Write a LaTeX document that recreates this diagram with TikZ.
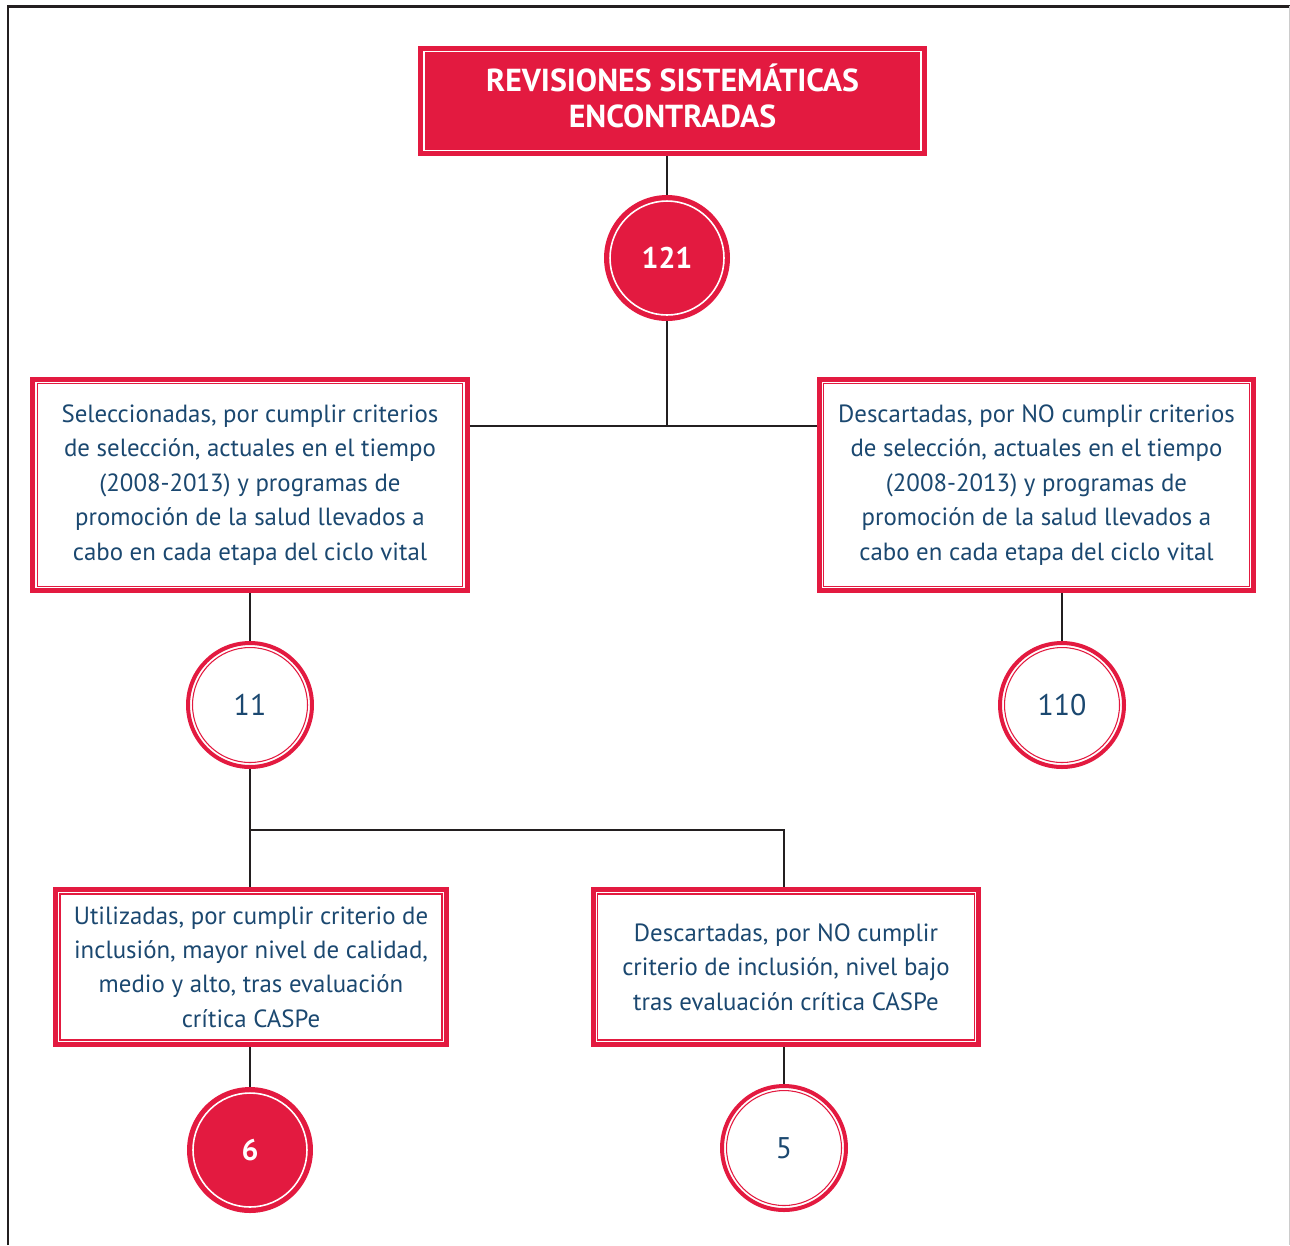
\documentclass[tikz,border=0pt]{standalone}
\usepackage{fontspec}
\setmainfont{PT Sans}
\usepackage{tikz}
\usetikzlibrary{calc,positioning}
\definecolor{crimson}{RGB}{227,26,64}
\definecolor{navy}{RGB}{27,72,112}
\definecolor{ink}{RGB}{35,31,32}

\begin{document}
\begin{tikzpicture}[x=0.02cm, y=-0.02cm,
  titlebox/.style={rectangle, fill=crimson, draw=crimson, line width=1pt, text=white,
    minimum width=10.14cm, minimum height=2.18cm, align=center, text depth=0.2cm,
    font=\bfseries\fontsize{18.1}{21.5}\selectfont,
    path picture={\draw[white, line width=0.9pt]
      ([shift={(0.1cm,-0.1cm)}]path picture bounding box.north west) rectangle
      ([shift={(-0.1cm,0.1cm)}]path picture bounding box.south east);}},
  infobox/.style={rectangle, fill=white, draw=crimson, line width=0.1cm, text=navy,
    align=center, font=\fontsize{14.15}{19.6}\selectfont,
    path picture={\draw[crimson, line width=0.7pt]
      ([shift={(0.09cm,-0.09cm)}]path picture bounding box.north west) rectangle
      ([shift={(-0.09cm,0.09cm)}]path picture bounding box.south east);}},
  redcircle/.style={circle, fill=crimson, minimum size=2.52cm, text=white,
    font=\bfseries\fontsize{17}{20}\selectfont,
    path picture={\draw[white, line width=0.9pt] (path picture bounding box.center) circle (1.14cm);}},
  whitecircle/.style={circle, fill=white, draw=crimson, line width=0.08cm, minimum size=2.48cm,
    text=navy, font=\fontsize{17}{20}\selectfont,
    path picture={\draw[crimson, line width=0.6pt] (path picture bounding box.center) circle (1.15cm);}},
  link/.style={ink, line width=1.4pt}]
\useasboundingbox (0,0) rectangle (1290,1245);
% frame
\draw[ink, line width=0.06cm] (8,1245) -- (8,6) -- (1290,6);
\draw[gray!40, line width=0.5pt] (1289,6) -- (1289,1245);
% top
\node[titlebox] (found) at (672.5,101) {REVISIONES SISTEMÁTICAS\\[-1pt]ENCONTRADAS};
\node[redcircle] (n121) at (667,258) {121};
% first split
\coordinate (split1) at (667,426);
\node[infobox, minimum width=8.69cm, minimum height=4.24cm] (sel) at (250,485)
  {Seleccionadas, por cumplir criterios\\de selección, actuales en el tiempo\\(2008-2013) y programas de\\promoción de la salud llevados a\\cabo en cada etapa del ciclo vital};
\node[infobox, minimum width=8.69cm, minimum height=4.24cm] (desc) at (1036.5,485)
  {Descartadas, por NO cumplir criterios\\de selección, actuales en el tiempo\\(2008-2013) y programas de\\promoción de la salud llevados a\\cabo en cada etapa del ciclo vital};
\node[whitecircle] (n11) at (250,705) {11};
\node[whitecircle] (n110) at (1062,705) {110};
% second split
\coordinate (split2) at (250,830);
\node[infobox, minimum width=7.82cm, minimum height=3.1cm] (util) at (251,967)
  {Utilizadas, por cumplir criterio de\\inclusión, mayor nivel de calidad,\\medio y alto, tras evaluación\\crítica CASPe};
\node[infobox, minimum width=7.72cm, minimum height=3.1cm] (desc2) at (786,967)
  {Descartadas, por NO cumplir\\criterio de inclusión, nivel bajo\\tras evaluación crítica CASPe};
\node[redcircle] (n6) at (250,1150) {6};
\node[whitecircle] (n5) at (784,1148) {5};
% connectors
\draw[link] (n121 |- found.south) -- (n121);
\draw[link] (n121) -- (split1);
\draw[link] (sel.east |- split1) -- (desc.west |- split1);
\draw[link] (sel.south -| n11) -- (n11);
\draw[link] (n110 |- desc.south) -- (n110);
\draw[link] (n11) -- (util.north -| n11);
\draw[link] (split2) -| (n5 |- desc2.north);
\draw[link] (util.south -| n6) -- (n6);
\draw[link] (n5 |- desc2.south) -- (n5);
\end{tikzpicture}
\end{document}
